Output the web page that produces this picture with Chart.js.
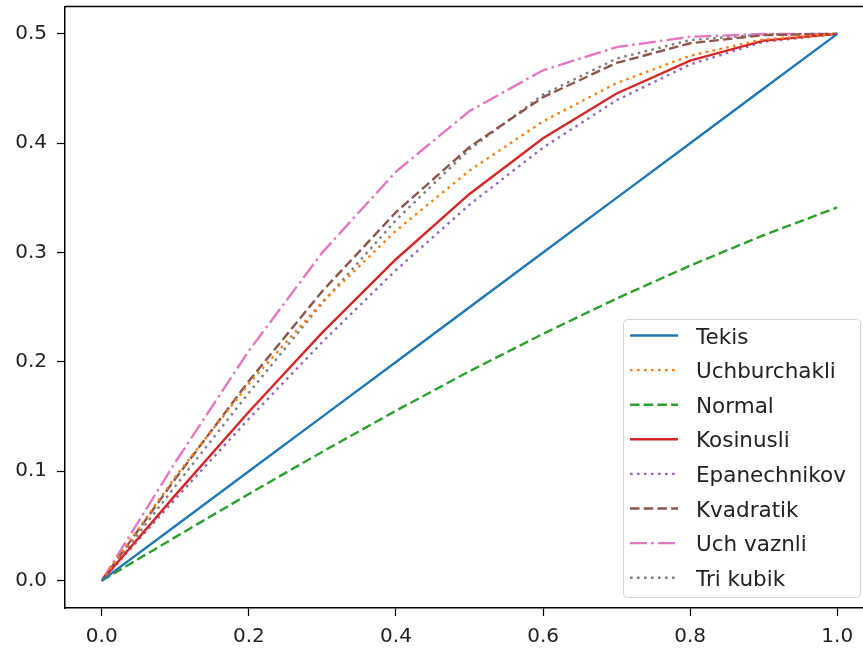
<!DOCTYPE html>
<html>
<head>
<meta charset="utf-8">
<script src="https://cdn.jsdelivr.net/npm/chart.js@4"></script>
<style>
  html, body { margin: 0; padding: 0; background: #fff; }
  #wrap { width: 863px; height: 648px; position: relative; }
</style>
</head>
<body>
<div id="wrap"><canvas id="chart"></canvas></div>
<script>
const xValues = [0, 0.1, 0.2, 0.3, 0.4, 0.5, 0.6, 0.7, 0.8, 0.9, 1.0];
const xTicks = [0, 0.2, 0.4, 0.6, 0.8, 1.0];
const yTicks = [0, 0.1, 0.2, 0.3, 0.4, 0.5];

const tekis = [0, 0.05, 0.10, 0.15, 0.20, 0.25, 0.30, 0.35, 0.40, 0.45, 0.50];
const uchburchakli = [0, 0.095, 0.180, 0.255, 0.320, 0.375, 0.420, 0.455, 0.480, 0.495, 0.500];
const normal = [0, 0.0398, 0.0793, 0.1179, 0.1554, 0.1915, 0.2257, 0.2580, 0.2881, 0.3159, 0.3413];
const kosinusli = [0, 0.0782, 0.1545, 0.2270, 0.2939, 0.3536, 0.4045, 0.4455, 0.4755, 0.4938, 0.500];
const epanechnikov = [0, 0.0748, 0.1480, 0.2183, 0.2840, 0.3438, 0.3960, 0.4393, 0.4720, 0.4928, 0.500];
const kvadratik = [0, 0.0931, 0.1826, 0.2648, 0.3369, 0.3965, 0.4421, 0.4734, 0.4914, 0.4988, 0.500];
const uchVaznli = [0, 0.1083, 0.2102, 0.3002, 0.3740, 0.4294, 0.4667, 0.4879, 0.4973, 0.4998, 0.500];
const triKubik = [0, 0.0864, 0.1718, 0.2541, 0.3297, 0.3944, 0.4444, 0.4774, 0.4943, 0.4995, 0.500];

const FONT = '"DejaVu Sans", "Liberation Sans", sans-serif';
const LW = 2.4;
const SOLID = [];
const DOTTED = [2.6, 4.4];
const DASHED = [9.5, 4.2];
const DASHDOT = [17, 4.2, 2.6, 4.2];

function pts(ys) {
  return ys.map((y, i) => ({ x: xValues[i], y }));
}

function series(label, ys, color, dash) {
  return {
    label,
    data: pts(ys),
    borderColor: color,
    backgroundColor: color,
    borderWidth: LW,
    borderDash: dash,
    borderCapStyle: 'butt',
    pointRadius: 0,
    tension: 0,
    fill: false,
  };
}

// matplotlib-like legend box in the lower right of the axes
const boxLegend = {
  id: 'boxLegend',
  afterDatasetsDraw(chart) {
    const ctx = chart.ctx;
    const x0 = 623, y0 = 319, w = 237, h = 278;
    ctx.save();
    ctx.beginPath();
    ctx.roundRect(x0 + 0.5, y0 + 0.5, w, h, 4);
    ctx.fillStyle = 'rgba(255,255,255,0.8)';
    ctx.fill();
    ctx.strokeStyle = '#d4d4d4';
    ctx.lineWidth = 1;
    ctx.stroke();
    ctx.font = '21.5px ' + FONT;
    ctx.textBaseline = 'alphabetic';
    ctx.textAlign = 'left';
    chart.data.datasets.forEach((ds, i) => {
      const base = 343.5 + i * 34.6;
      const ly = base - 8;
      ctx.beginPath();
      ctx.setLineDash(ds.borderDash || []);
      ctx.lineCap = 'butt';
      ctx.strokeStyle = ds.borderColor;
      ctx.lineWidth = LW;
      ctx.moveTo(630, ly);
      ctx.lineTo(678, ly);
      ctx.stroke();
      ctx.setLineDash([]);
      ctx.fillStyle = '#222';
      ctx.fillText(ds.label, 696, base);
    });
    ctx.restore();
  }
};

// top spine (right spine falls outside the picture)
const topSpine = {
  id: 'topSpine',
  afterDraw(chart) {
    const { ctx, chartArea } = chart;
    ctx.save();
    ctx.strokeStyle = '#000';
    ctx.lineWidth = 1.5;
    ctx.beginPath();
    ctx.moveTo(chartArea.left, chartArea.top);
    ctx.lineTo(chartArea.right, chartArea.top);
    ctx.stroke();
    ctx.restore();
  }
};

new Chart(document.getElementById('chart'), {
  type: 'line',
  data: {
    datasets: [
      series('Tekis', tekis, '#1f77b4', SOLID),
      series('Uchburchakli', uchburchakli, '#ff7f0e', DOTTED),
      series('Normal', normal, '#2ca02c', DASHED),
      series('Kosinusli', kosinusli, '#d62728', SOLID),
      series('Epanechnikov', epanechnikov, '#9467bd', DOTTED),
      series('Kvadratik', kvadratik, '#8c564b', DASHED),
      series('Uch vaznli', uchVaznli, '#e377c2', DASHDOT),
      series('Tri kubik', triKubik, '#7f7f7f', DOTTED),
    ],
  },
  options: {
    responsive: true,
    maintainAspectRatio: false,
    animation: false,
    layout: { padding: { top: 6.5, left: 0, right: 0, bottom: 0 } },
    plugins: { legend: { display: false }, tooltip: { enabled: false } },
    scales: {
      x: {
        type: 'linear',
        min: -0.05,
        max: 1.035,
        afterBuildTicks: s => { s.ticks = xTicks.map(v => ({ value: v })); },
        afterFit: s => { s.height = 40; s.paddingLeft = 0; s.paddingRight = 0; },
        grid: { drawOnChartArea: false, drawTicks: true, tickLength: 8, tickColor: '#000', tickWidth: 1.2 },
        border: { display: true, color: '#000', width: 1.5 },
        ticks: {
          padding: 9,
          maxRotation: 0,
          autoSkip: false,
          color: '#222',
          font: { family: FONT, size: 20 },
          callback: v => Number(v).toFixed(1),
        },
      },
      y: {
        type: 'linear',
        min: -0.025,
        max: 0.525,
        afterBuildTicks: s => { s.ticks = yTicks.map(v => ({ value: v })); },
        afterFit: s => { s.width = 65; s.paddingTop = 0; s.paddingBottom = 0; },
        grid: { drawOnChartArea: false, drawTicks: true, tickLength: 8, tickColor: '#000', tickWidth: 1.2 },
        border: { display: true, color: '#000', width: 1.5 },
        ticks: {
          padding: 10,
          autoSkip: false,
          color: '#222',
          font: { family: FONT, size: 20 },
          callback: v => Number(v).toFixed(1),
        },
      },
    },
  },
  plugins: [boxLegend, topSpine],
});
</script>
</body>
</html>
